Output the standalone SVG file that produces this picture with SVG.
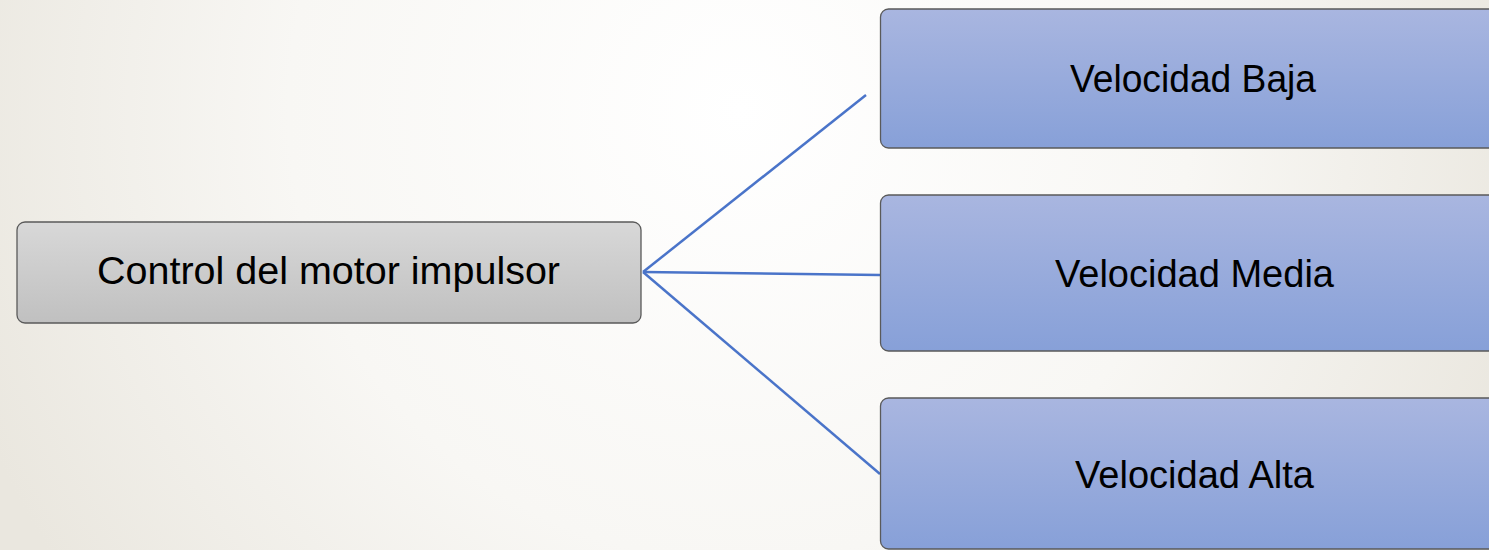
<svg xmlns="http://www.w3.org/2000/svg" width="1489" height="550" viewBox="0 0 1489 550">
  <defs>
    <radialGradient id="bg" cx="740" cy="110" r="820" gradientUnits="userSpaceOnUse">
      <stop offset="0" stop-color="#FFFFFF"/>
      <stop offset="0.55" stop-color="#F8F7F4"/>
      <stop offset="1" stop-color="#EAE7DF"/>
    </radialGradient>
    <linearGradient id="grey" x1="0" y1="0" x2="0" y2="1">
      <stop offset="0" stop-color="#D8D8D8"/>
      <stop offset="1" stop-color="#C0C0C0"/>
    </linearGradient>
    <linearGradient id="blue" x1="0" y1="0" x2="0" y2="1">
      <stop offset="0" stop-color="#A9B6E0"/>
      <stop offset="1" stop-color="#87A0D8"/>
    </linearGradient>
    <style>
      .box { stroke: #5A5A5A; stroke-width: 1.3; }
      .lbl { font-family: "Liberation Sans", Arial, sans-serif; font-size: 38px; fill: #000; text-anchor: middle; }
      .conn { stroke: #4A74C9; stroke-width: 2.5; fill: none; }
    </style>
  </defs>
  <rect x="0" y="0" width="1489" height="550" fill="url(#bg)"/>

  <g id="connectors">
    <line class="conn" x1="643" y1="272" x2="866" y2="95"/>
    <line class="conn" x1="643" y1="272" x2="880" y2="275"/>
    <line class="conn" x1="643" y1="272" x2="880" y2="474"/>
  </g>

  <g id="node-control">
    <rect class="box" x="17" y="222" width="624" height="101" rx="8" fill="url(#grey)"/>
    <text class="lbl" x="328.5" y="284" textLength="463" lengthAdjust="spacingAndGlyphs">Control del motor impulsor</text>
  </g>

  <g id="node-baja">
    <rect class="box" x="880.5" y="9" width="640" height="139" rx="8" fill="url(#blue)"/>
    <text class="lbl" x="1193" y="92" textLength="246" lengthAdjust="spacingAndGlyphs">Velocidad Baja</text>
  </g>

  <g id="node-media">
    <rect class="box" x="880.5" y="195" width="640" height="156" rx="8" fill="url(#blue)"/>
    <text class="lbl" x="1194.5" y="287" textLength="279" lengthAdjust="spacingAndGlyphs">Velocidad Media</text>
  </g>

  <g id="node-alta">
    <rect class="box" x="880.5" y="398" width="640" height="151" rx="8" fill="url(#blue)"/>
    <text class="lbl" x="1194.5" y="488" textLength="239" lengthAdjust="spacingAndGlyphs">Velocidad Alta</text>
  </g>
</svg>
